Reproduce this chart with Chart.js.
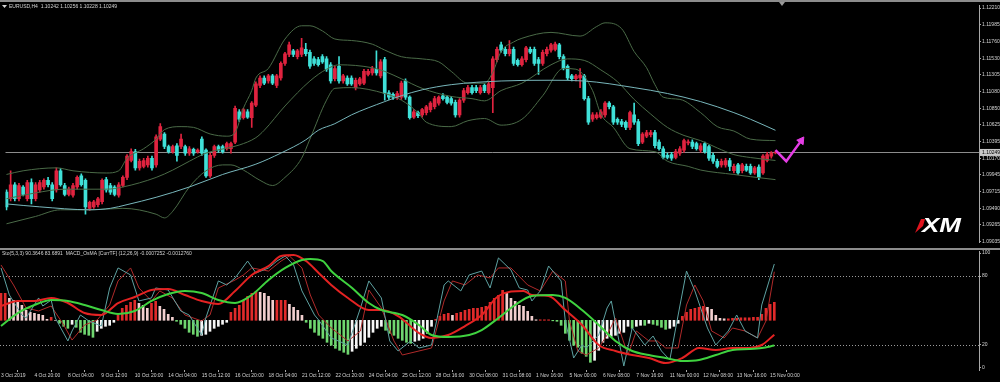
<!DOCTYPE html>
<html>
<head>
<meta charset="utf-8">
<script src="https://cdn.jsdelivr.net/npm/chart.js@4.4.1/dist/chart.umd.min.js"></script>
<style>
html,body{margin:0;padding:0;background:#000;}
#wrap{position:relative;width:1000px;height:382px;overflow:hidden;background:#000;}
.sep{position:absolute;left:0;width:1000px;background:#8c8c8c;}
canvas{position:absolute;left:0;}
</style>
</head>
<body>
<div id="wrap">
  <div class="sep" style="top:0;height:2px"></div>
  <div class="sep" style="top:248px;height:2px"></div>
  <canvas id="main" width="1000" height="248" style="top:0;width:1000px;height:248px"></canvas>
  <canvas id="sub" width="1000" height="132" style="top:250px;width:1000px;height:132px"></canvas>
</div>
<script>
// ---------------- DATA ----------------
const SYMBOL = 'EURUSD,H4';
const SUB_TITLE = ['Sto(5,3,3)', '90.3646', '83.6891', ' MACD_OsMA [CurrTF] (12,26,9)', '-0.0007252', '-0.0012760'];

const open = [
1.0971,1.0962,1.0981,1.0962,1.0978,1.0962,1.0984,1.0962,1.0974,1.0978,
1.0987,1.0981,1.0974,1.1000,1.0980,1.0968,1.0967,1.0978,1.0993,1.0987,
1.0949,1.0951,1.0954,1.0958,1.0988,1.0980,1.0978,1.0967,1.0980,1.0991,
1.1014,1.1026,1.1004,1.1006,1.1008,1.1017,1.1008,1.1043,1.1050,1.1033,
1.1026,1.1034,1.1033,1.1033,1.1024,1.1029,1.1026,1.1043,1.1028,1.0993,
1.1021,1.1033,1.1033,1.1030,1.1030,1.1039,1.1080,1.1072,1.1080,1.1072,
1.1089,1.1116,1.1126,1.1122,1.1129,1.1116,1.1126,1.1146,1.1158,1.1163,
1.1155,1.1158,1.1165,1.1161,1.1152,1.1151,1.1155,1.1152,1.1144,1.1125,
1.1142,1.1122,1.1126,1.1126,1.1113,1.1118,1.1119,1.1131,1.1133,1.1138,
1.1129,1.1151,1.1106,1.1104,1.1100,1.1100,1.1122,1.1100,1.1073,1.1079,
1.1076,1.1079,1.1083,1.1087,1.1092,1.1102,1.1100,1.1098,1.1093,1.1076,
1.1096,1.1106,1.1113,1.1113,1.1106,1.1116,1.1106,1.1113,1.1151,1.1171,
1.1165,1.1159,1.1165,1.1150,1.1144,1.1151,1.1165,1.1165,1.1151,1.1146,
1.1159,1.1164,1.1165,1.1171,1.1155,1.1142,1.1129,1.1125,1.1126,1.1129,
1.1098,1.1070,1.1072,1.1073,1.1076,1.1092,1.1087,1.1070,1.1067,1.1066,
1.1059,1.1076,1.1067,1.1039,1.1047,1.1049,1.1052,1.1039,1.1030,1.1021,
1.1022,1.1018,1.1024,1.1028,1.1038,1.1039,1.1037,1.1028,1.1037,1.1033,
1.1021,1.1013,1.1008,1.1008,1.1014,1.1000,1.1008,1.1000,1.1006,1.1006,
1.0997,1.1005,1.0997,1.1014,1.1020,1.10242];

const high = [
1.0974,1.1000,1.0984,1.0983,1.0980,1.0987,1.0989,1.0984,1.0987,1.0989,
1.0991,1.0984,1.1004,1.1003,1.0983,1.0978,1.0983,1.0993,1.0996,1.0989,
1.0959,1.0960,1.0964,1.0989,1.0991,1.0983,1.0980,1.0984,1.0993,1.1022,
1.1030,1.1029,1.1016,1.1017,1.1020,1.1020,1.1049,1.1064,1.1052,1.1035,
1.1035,1.1037,1.1050,1.1035,1.1033,1.1031,1.1030,1.1046,1.1030,1.1024,
1.1035,1.1035,1.1035,1.1039,1.1039,1.1088,1.1083,1.1085,1.1083,1.1094,
1.1121,1.1129,1.1129,1.1131,1.1131,1.1131,1.1148,1.1161,1.1175,1.1165,
1.1165,1.1180,1.1173,1.1164,1.1155,1.1154,1.1158,1.1155,1.1147,1.1142,
1.1155,1.1131,1.1129,1.1129,1.1126,1.1127,1.1138,1.1138,1.1142,1.1163,
1.1151,1.1154,1.1109,1.1106,1.1108,1.1122,1.1125,1.1102,1.1083,1.1081,
1.1085,1.1089,1.1094,1.1101,1.1102,1.1105,1.1102,1.1101,1.1096,1.1098,
1.1112,1.1116,1.1116,1.1116,1.1116,1.1118,1.1121,1.1155,1.1168,1.1175,
1.1168,1.1177,1.1168,1.1152,1.1155,1.1169,1.1168,1.1168,1.1154,1.1164,
1.1168,1.1173,1.1175,1.1173,1.1158,1.1144,1.1131,1.1131,1.1139,1.1131,
1.1101,1.1079,1.1079,1.1083,1.1094,1.1094,1.1089,1.1072,1.1070,1.1068,
1.1081,1.1092,1.1070,1.1052,1.1055,1.1055,1.1055,1.1042,1.1033,1.1024,
1.1025,1.1029,1.1033,1.1043,1.1042,1.1042,1.1039,1.1037,1.1039,1.1035,
1.1024,1.1016,1.1016,1.1017,1.1017,1.1009,1.1010,1.1010,1.1009,1.1009,
1.1006,1.1008,1.1022,1.1025,1.1026,1.10256];

const low = [
1.0947,1.0959,1.0959,1.0959,1.0966,1.0959,1.0955,1.0959,1.0971,1.0975,
1.0978,1.0959,1.0971,1.0979,1.0966,1.0966,1.0964,1.0975,1.0979,1.0941,
1.0946,1.0949,1.0951,1.0955,1.0971,1.0968,1.0966,1.0964,1.0978,1.0988,
1.1012,1.1001,1.1001,1.1004,1.1005,1.1001,1.1005,1.1041,1.1030,1.1024,
1.1024,1.1013,1.1030,1.1021,1.1021,1.1021,1.1024,1.1021,1.0991,1.0991,
1.1018,1.1025,1.1024,1.1028,1.1024,1.1037,1.1067,1.1070,1.1071,1.1059,
1.1087,1.1113,1.1117,1.1119,1.1117,1.1113,1.1123,1.1143,1.1155,1.1155,
1.1152,1.1155,1.1156,1.1139,1.1143,1.1142,1.1146,1.1135,1.1119,1.1122,
1.1119,1.1119,1.1116,1.1116,1.1110,1.1116,1.1117,1.1129,1.1130,1.1130,
1.1126,1.1096,1.1097,1.1097,1.1097,1.1097,1.1097,1.1070,1.1071,1.1072,
1.1073,1.1076,1.1080,1.1084,1.1089,1.1096,1.1091,1.1089,1.1073,1.1073,
1.1093,1.1104,1.1104,1.1106,1.1104,1.1106,1.1104,1.1079,1.1148,1.1161,
1.1156,1.1156,1.1143,1.1142,1.1142,1.1148,1.1159,1.1143,1.1131,1.1143,
1.1156,1.1161,1.1163,1.1152,1.1137,1.1123,1.1122,1.1122,1.1113,1.1096,
1.1063,1.1067,1.1070,1.1071,1.1073,1.1084,1.1063,1.1063,1.1060,1.1056,
1.1056,1.1063,1.1034,1.1037,1.1045,1.1046,1.1031,1.1028,1.1016,1.1016,
1.1014,1.1016,1.1021,1.1025,1.1035,1.1030,1.1028,1.1025,1.1024,1.1014,
1.1010,1.1004,1.1005,1.1005,1.1000,1.0997,1.0995,1.0997,1.0999,1.0995,
1.0995,1.0988,1.0995,1.1012,1.1017,1.10228];

const close = [
1.0951,1.0981,1.0962,1.0980,1.0968,1.0984,1.0962,1.0981,1.0984,1.0987,
1.0981,1.0962,1.1000,1.0981,1.0968,1.0975,1.0980,1.0991,1.0981,1.0951,
1.0957,1.0958,1.0962,1.0987,1.0974,1.0971,1.0968,1.0981,1.0991,1.1020,
1.1026,1.1004,1.1013,1.1014,1.1017,1.1004,1.1046,1.1060,1.1033,1.1026,
1.1033,1.1021,1.1043,1.1024,1.1030,1.1024,1.1028,1.1024,1.0993,1.1021,
1.1033,1.1028,1.1026,1.1037,1.1037,1.1085,1.1070,1.1083,1.1073,1.1092,
1.1118,1.1126,1.1119,1.1129,1.1119,1.1129,1.1146,1.1159,1.1171,1.1158,
1.1163,1.1167,1.1159,1.1142,1.1146,1.1144,1.1148,1.1138,1.1122,1.1139,
1.1122,1.1129,1.1118,1.1118,1.1123,1.1125,1.1135,1.1135,1.1139,1.1133,
1.1148,1.1105,1.1100,1.1100,1.1105,1.1119,1.1100,1.1072,1.1080,1.1075,
1.1083,1.1087,1.1092,1.1098,1.1100,1.1098,1.1093,1.1092,1.1076,1.1096,
1.1109,1.1113,1.1106,1.1109,1.1113,1.1109,1.1118,1.1152,1.1165,1.1164,
1.1159,1.1165,1.1146,1.1144,1.1152,1.1167,1.1161,1.1146,1.1146,1.1161,
1.1165,1.1171,1.1172,1.1155,1.1139,1.1126,1.1125,1.1129,1.1130,1.1098,
1.1066,1.1076,1.1076,1.1080,1.1092,1.1087,1.1066,1.1066,1.1063,1.1059,
1.1079,1.1066,1.1037,1.1050,1.1052,1.1052,1.1034,1.1030,1.1018,1.1018,
1.1017,1.1026,1.1030,1.1041,1.1039,1.1033,1.1030,1.1034,1.1026,1.1017,
1.1013,1.1006,1.1013,1.1014,1.1006,1.1006,1.0997,1.1008,1.1001,1.0997,
1.1004,1.0991,1.1020,1.1022,1.1024,1.10249];

// Bollinger bands (read at sampled bars)
const bbUpperX = [0,4,12,16,24,27,29,33,36,38,42,45,49,53,55,57,59,60,63,67,71,73,76,79,83,88,91,95,100,104,107,111,115,117,119,122,124,131,138,142,144,148,151,154,156,158,162,167,171,175,179,185];
const bbUpperY = [1.0995,1.1000,1.1004,1.1000,1.0997,1.1000,1.1017,1.1030,1.1043,1.1056,1.1060,1.1059,1.1050,1.1047,1.1052,1.1085,1.1109,1.1126,1.1139,1.1179,1.1197,1.1197,1.1190,1.1179,1.1177,1.1172,1.1164,1.1155,1.1152,1.1148,1.1135,1.1119,1.1119,1.1134,1.1162,1.1175,1.1180,1.1188,1.1183,1.1196,1.1201,1.1193,1.1162,1.1140,1.1117,1.1100,1.1097,1.1079,1.1060,1.1054,1.1043,1.1041];
const bbMidX = [0,7,14,24,28,36,40,44,48,56,60,62,67,73,77,80,88,91,95,100,107,112,115,119,124,131,135,139,143,147,151,155,159,163,167,171,175,179,185];
const bbMidY = [1.0962,1.0970,1.0975,1.0975,1.0978,1.0991,1.1001,1.1013,1.1024,1.1035,1.1045,1.1055,1.1088,1.1122,1.1138,1.1144,1.1140,1.1135,1.1125,1.1112,1.1101,1.1098,1.1095,1.1109,1.1119,1.1144,1.1152,1.1150,1.1137,1.1121,1.1097,1.1077,1.1059,1.1048,1.1041,1.1031,1.1022,1.1018,1.1014];
const bbLowX = [0,7,13,20,28,36,38,40,44,48,52,54,57,61,64,67,71,73,77,79,83,91,95,99,101,107,111,115,119,124,129,134,137,141,143,146,150,156,159,164,167,175,179,185];
const bbLowY = [1.0928,1.0938,1.0947,1.0947,1.0949,1.0941,1.0936,1.0945,1.0978,1.1000,1.1008,1.1008,1.1001,1.0987,1.0980,1.0991,1.1017,1.1043,1.1096,1.1112,1.1113,1.1105,1.1096,1.1079,1.1066,1.1060,1.1068,1.1071,1.1062,1.1070,1.1102,1.1139,1.1138,1.1109,1.1077,1.1059,1.1030,1.1026,1.1013,1.1006,1.1001,1.0995,1.0992,1.0988];
// long moving average
const maX = [0,8,20,25,29,36,44,52,60,66,72,75,79,83,91,95,100,107,119,131,139,151,159,167,175,179,185];
const maY = [1.0955,1.0951,1.0947,1.0949,1.0954,1.0964,1.0978,1.0995,1.1009,1.1024,1.1042,1.1055,1.1064,1.1076,1.1094,1.1102,1.1110,1.1117,1.1122,1.1123,1.1122,1.1113,1.1105,1.1094,1.1079,1.1070,1.1055];
// forecast arrow
const arrowX = [185, 187.6, 191.2];
const arrowY = [1.1028, 1.1013, 1.1041];

// Sub window: stochastic (5,3,3), its smoothed lines and MACD OsMA histogram
const stoMainX = [0,2,5,6,9,10,12,13,16,17,19,21,24,26,28,31,33,36,37,40,43,45,48,49,52,54,56,59,61,64,66,68,70,72,75,76,79,83,86,88,91,93,95,98,100,103,106,107,110,112,115,117,119,122,124,126,127,129,131,134,135,137,139,140,143,145,146,149,151,154,156,158,160,162,164,166,169,171,174,176,178,181,182,185];
const stoMainY = [87.0,63.5,46.1,43.5,60.9,53.9,59.1,43.5,23.5,32.2,46.1,40.9,36.5,69.6,87.0,80.9,58.3,60.9,69.6,67.8,49.6,46.1,28.7,43.5,75.7,72.2,78.3,93.0,82.6,87.0,93.0,97.4,89.6,67.0,46.1,41.7,26.1,20.0,52.2,75.7,60.9,23.5,14.8,23.5,17.4,20.0,72.2,75.7,67.0,80.9,84.3,69.6,95.7,85.2,69.6,67.8,58.3,67.0,88.7,75.7,40.9,8.7,20.0,17.4,28.7,52.2,58.3,1.7,34.8,20.0,27.8,14.8,7.0,46.1,84.3,67.0,34.8,20.0,32.2,46.1,32.2,26.1,54.8,90.4];
const stoSigX = [0,3,6,9,12,15,17,20,23,26,28,31,33,36,38,41,44,48,50,52,56,58,60,64,67,69,72,74,76,79,83,86,88,91,94,96,100,103,106,108,111,114,117,119,122,126,129,132,135,136,138,140,143,145,147,150,152,155,157,159,162,164,166,168,170,173,175,178,181,183,185];
const stoSigY = [89.6,72.2,52.2,49.6,53.9,37.4,24.3,37.4,41.7,54.8,75.7,87.0,69.6,58.3,67.0,60.9,46.1,40.9,46.1,69.6,76.5,80.9,87.0,84.3,93.0,97.4,87.0,63.5,46.1,34.8,23.5,32.2,67.8,52.2,23.5,11.3,14.8,17.4,58.3,75.7,72.2,80.9,78.3,87.0,87.0,72.2,67.0,84.3,75.7,40.9,14.8,11.3,17.4,28.7,43.5,11.3,32.2,23.5,23.5,17.4,17.4,54.8,72.2,58.3,32.2,26.1,34.8,32.2,26.1,40.9,83.7];
const slowGreenX = [0,4,8,12,16,20,24,28,32,36,40,44,48,52,56,60,64,68,72,74,77,79,84,88,91,96,100,103,107,112,115,119,123,127,132,135,139,143,147,151,155,159,163,167,171,175,179,182,185];
const slowGreenY = [36.5,47.8,54.8,59.1,58.3,54.8,50.4,47.0,49.6,58.3,64.3,67.0,65.2,59.1,56.5,63.5,76.5,87.0,93.9,94.8,93.0,84.3,69.6,56.5,50.4,46.1,37.4,28.7,27.0,28.7,33.0,43.5,54.8,62.6,63.5,60.9,50.4,37.4,23.5,14.8,11.3,8.7,6.1,7.0,11.3,15.7,16.5,17.4,19.5];
const slowRedX = [0,4,8,12,16,20,24,28,32,36,40,44,48,52,56,60,64,67,70,73,76,79,83,88,91,95,100,103,107,111,115,119,125,127,131,135,139,143,147,151,155,159,163,167,171,175,179,182,185];
const slowRedY = [53.9,58.3,58.3,60.9,56.5,47.8,46.1,56.5,61.7,67.8,68.7,63.5,58.3,55.7,67.0,80.9,88.7,97.4,98.3,93.0,82.6,72.2,60.9,50.4,50.4,45.2,30.4,26.1,28.7,36.5,46.1,62.6,67.0,63.5,62.6,50.4,37.4,20.0,14.8,11.3,8.7,4.3,8.7,17.4,15.7,17.4,17.4,20.0,29.0];
const osma = [
27,27,22,20,18,15,10,8,7,6,
5,1,3,0,-3,-6,-8,-4,-7,-12,
-14,-15,-17,-11,-8,-6,-5,-2,5,12,
15,18,20,17,15,12,17,19,14,11,
6,3,-1,-4,-8,-12,-14,-16,-15,-14,
-11,-8,-6,-4,-2,8,12,15,20,24,
27,29,28,27,24,20,20,20,20,16,
13,10,5,-2,-8,-12,-15,-18,-22,-25,
-28,-30,-32,-34,-31,-28,-25,-22,-17,-12,
-8,-6,-10,-13,-15,-18,-20,-22,-23,-21,
-20,-18,-13,-6,1,4,6,7,5,7,
8,10,11,12,12,13,14,18,22,25,
30,27,22,19,15,14,9,4,0.5,0.5,
0.5,0.5,-0.5,-1,-5,-13,-20,-25,-27,-33,
-36,-42,-40,-30,-22,-18,-16,-15,-13,-12,
-6,-8,-6,-5,-5,-3,-4,-5,-7,-9,
-8,-6,-3,4,8,11,12,13,14,13,
11,5,2,1.5,1.5,2,2,2.5,2.5,2.5,
3,3,6,12,16,18];

// Axes
const xTickBars = [0,8,16,24,32,40,48,56,64,72,80,88,96,104,112,120,128,136,144,152,160,168,176,184];
const xTickLabels = ['3 Oct 2019','4 Oct 20:00','8 Oct 04:00','9 Oct 12:00','10 Oct 20:00','14 Oct 04:00','15 Oct 12:00','16 Oct 20:00','18 Oct 04:00','21 Oct 12:00','22 Oct 20:00','24 Oct 04:00','25 Oct 12:00','28 Oct 16:00','30 Oct 08:00','31 Oct 08:00','1 Nov 16:00','5 Nov 00:00','6 Nov 08:00','7 Nov 16:00','11 Nov 00:00','12 Nov 08:00','13 Nov 16:00','15 Nov 00:00'];
const priceTicks = [1.12210,1.11985,1.11760,1.11530,1.11305,1.11080,1.10850,1.10625,1.10395,1.10170,1.09945,1.09715,1.09490,1.09265,1.09035];
const stoTicks = [100,80,20,0];
const stoLevels = [80,20];

// ---------------- STYLE / HELPERS ----------------
const TXT = '#d4d4d4';
const AX = '#a8a8a8';
const UP = '#e0233f', DOWN = '#3fe0d8';
const MAG = '#e43de4';
const FONT = '"Liberation Sans", Arial, sans-serif';
Chart.defaults.font.family = FONT;
Chart.defaults.color = TXT;

const N = close.length;
const bars = close.map((_, i) => i);
const candleColor = bars.map(i => close[i] >= open[i] ? UP : DOWN);
const osmaColor = osma.map((v, i) => {
  const p = i ? osma[i - 1] : v;
  if (v >= 0) return v >= p ? '#e02a2a' : '#f2cfcf';
  return v <= p ? '#6fd66f' : '#f6f6f6';
});
const pts = (xs, ys) => xs.map((x, k) => ({x, y: ys[k]}));
const X_MIN = -0.24, X_MAX = 233.97;
const noPadY = s => { s.width = 21; s.paddingTop = 0; s.paddingBottom = 0; };

const lineDs = (data, color, width, extra) => Object.assign({
  type: 'line', data, borderColor: color, borderWidth: width, pointRadius: 0,
  fill: false, cubicInterpolationMode: 'monotone', order: 1
}, extra || {});

// ---------------- MAIN CHART ----------------
const mainDecor = {
  id: 'mainDecor',
  beforeDatasetsDraw(chart) {
    const {ctx, chartArea: a, scales: {y}} = chart;
    const py = Math.round(y.getPixelForValue(close[N - 1])) + 0.5;
    ctx.save();
    ctx.strokeStyle = '#8c8c8c'; ctx.lineWidth = 1;
    ctx.beginPath(); ctx.moveTo(a.left, py); ctx.lineTo(a.right, py); ctx.stroke();
    ctx.restore();
  },
  afterDraw(chart) {
    const {ctx, chartArea: a, scales: {y}} = chart;
    ctx.save();
    ctx.fillStyle = TXT; ctx.font = '5px ' + FONT; ctx.textBaseline = 'middle'; ctx.textAlign = 'left';
    ctx.fillText(SYMBOL + '  ' + [open, high, low, close].map(s => s[N - 1].toFixed(5)).join(' '), 9, 6.5);
    ctx.beginPath(); ctx.moveTo(2, 5); ctx.lineTo(7, 5); ctx.lineTo(4.5, 8); ctx.closePath(); ctx.fill();
    // chart shift marker
    ctx.fillStyle = '#9a9a9a';
    ctx.beginPath(); ctx.moveTo(779, 2); ctx.lineTo(785, 2); ctx.lineTo(782, 6); ctx.closePath(); ctx.fill();
    // current price label
    const py = y.getPixelForValue(close[N - 1]);
    ctx.fillStyle = '#c8c8c8'; ctx.fillRect(a.right + 1, py - 3.5, 21, 7);
    ctx.fillStyle = '#000'; ctx.fillText(close[N - 1].toFixed(5), a.right + 3, py);
    // XM logo
    ctx.fillStyle = '#e0141e';
    ctx.beginPath(); ctx.moveTo(915, 233); ctx.lineTo(921, 219); ctx.lineTo(925, 219); ctx.lineTo(923, 226); ctx.closePath(); ctx.fill();
    ctx.translate(922, 226.5); ctx.scale(1.3, 1);
    ctx.fillStyle = '#ffffff'; ctx.font = 'italic bold 20px ' + FONT;
    ctx.fillText('XM', 0, 0);
    ctx.restore();
  }
};

new Chart(document.getElementById('main'), {
  type: 'bar',
  data: {
    datasets: [
      lineDs(pts(arrowX, arrowY), MAG, 2.5, {cubicInterpolationMode: 'default', tension: 0, order: 0,
        pointRadius: [0, 0, 4.5], pointStyle: 'triangle', pointRotation: 35,
        pointBackgroundColor: MAG, pointBorderColor: MAG, pointBorderWidth: 1}),
      lineDs(pts(maX, maY), '#78b6bb', 1),
      lineDs(pts(bbUpperX, bbUpperY), '#4a6a47', 1),
      lineDs(pts(bbMidX, bbMidY), '#4a6a47', 1),
      lineDs(pts(bbLowX, bbLowY), '#4a6a47', 1),
      {label: 'body', data: bars.map(i => ({x: i, y: [open[i], close[i]]})), backgroundColor: candleColor,
        barThickness: 3, minBarLength: 1, grouped: false, order: 2},
      {label: 'wick', data: bars.map(i => ({x: i, y: [low[i], high[i]]})), backgroundColor: candleColor,
        barThickness: 1, grouped: false, order: 3}
    ]
  },
  options: {
    responsive: false, animation: false, devicePixelRatio: 1,
    layout: {padding: {top: 2, bottom: 1, left: 0, right: 0}},
    plugins: {legend: {display: false}, tooltip: {enabled: false}},
    scales: {
      x: {type: 'linear', min: X_MIN, max: X_MAX, display: false, offset: false},
      y: {
        position: 'right', min: 1.090258, max: 1.122455,
        afterFit: noPadY,
        afterBuildTicks: s => { s.ticks = priceTicks.map(v => ({value: v})); },
        ticks: {callback: v => Number(v).toFixed(5), color: TXT, font: {size: 5}, padding: 1, autoSkip: false},
        grid: {drawOnChartArea: false, color: AX, tickLength: 2},
        border: {display: true, color: AX}
      }
    }
  },
  plugins: [mainDecor]
});

// ---------------- SUB CHART ----------------
const subDecor = {
  id: 'subDecor',
  beforeDatasetsDraw(chart) {
    const {ctx, chartArea: a, scales: {y}} = chart;
    ctx.save();
    ctx.strokeStyle = '#9a9a9a'; ctx.lineWidth = 1; ctx.setLineDash([1, 2]);
    stoLevels.forEach(l => {
      const py = Math.round(y.getPixelForValue(l)) + 0.5;
      ctx.beginPath(); ctx.moveTo(a.left, py); ctx.lineTo(a.right, py); ctx.stroke();
    });
    ctx.restore();
  },
  afterDraw(chart) {
    const {ctx} = chart;
    ctx.save();
    ctx.fillStyle = TXT; ctx.font = '5px ' + FONT; ctx.textBaseline = 'middle'; ctx.textAlign = 'left';
    ctx.fillText(SUB_TITLE.join(' '), 2, 4);
    ctx.restore();
  }
};

new Chart(document.getElementById('sub'), {
  type: 'bar',
  data: {
    datasets: [
      lineDs(pts(slowGreenX, slowGreenY), '#3fd23f', 2, {order: 0}),
      lineDs(pts(slowRedX, slowRedY), '#e42222', 2, {order: 1}),
      lineDs(pts(stoMainX, stoMainY), '#5ea2a2', 1, {cubicInterpolationMode: 'default', tension: 0, order: 2}),
      lineDs(pts(stoSigX, stoSigY), '#b02a2a', 1, {cubicInterpolationMode: 'default', tension: 0, order: 3}),
      {label: 'osma', data: bars.map(i => ({x: i, y: osma[i]})), backgroundColor: osmaColor,
        barThickness: 2, grouped: false, yAxisID: 'yh', order: 4}
    ]
  },
  options: {
    responsive: false, animation: false, devicePixelRatio: 1,
    layout: {padding: {top: 1, bottom: 0, left: 0, right: 0}},
    plugins: {legend: {display: false}, tooltip: {enabled: false}},
    scales: {
      x: {
        type: 'linear', min: X_MIN, max: X_MAX, offset: false,
        afterFit: s => { s.height = 12; s.paddingLeft = 0; s.paddingRight = 0; },
        afterBuildTicks: s => { s.ticks = xTickBars.map(v => ({value: v})); },
        ticks: {autoSkip: false, maxRotation: 0, minRotation: 0, align: 'start', padding: 1, color: TXT, font: {size: 5},
          callback: v => { const k = xTickBars.indexOf(v); return k >= 0 ? xTickLabels[k] : ''; }},
        grid: {drawOnChartArea: false, color: AX, tickLength: 2},
        border: {display: false}
      },
      y: {
        position: 'right', min: -1.74, max: 101.74,
        afterFit: noPadY,
        afterBuildTicks: s => { s.ticks = stoTicks.map(v => ({value: v})); },
        ticks: {callback: v => String(v), color: TXT, font: {size: 5}, padding: 1, autoSkip: false},
        grid: {drawOnChartArea: false, color: AX, tickLength: 2},
        border: {display: true, color: AX}
      },
      yh: {display: false, min: -49.7, max: 69.3}
    }
  },
  plugins: [subDecor]
});
</script>
</body>
</html>
